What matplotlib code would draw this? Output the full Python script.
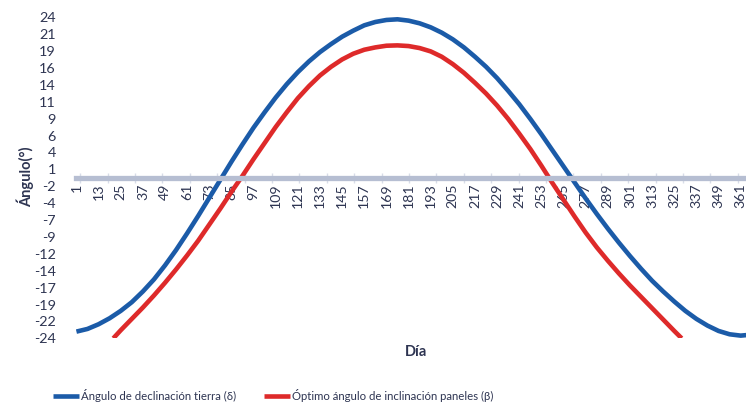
import numpy as np
import matplotlib
matplotlib.use("Agg")
from matplotlib import pyplot as plt

plt.rcParams['font.family'] = ['Lato', 'DejaVu Sans']

# Datos (día del año, ángulo en grados)
dias_decl = [1, 7, 13, 19, 25, 31, 37, 43, 49, 55, 61, 67, 73, 79, 85, 91, 97,
             103, 109, 115, 121, 127, 133, 139, 145, 151, 157, 163, 169, 175,
             181, 187, 193, 199, 205, 211, 217, 223, 229, 235, 241, 247, 253,
             259, 265, 271, 277, 283, 289, 295, 301, 307, 313, 319, 325, 331,
             337, 343, 349, 355, 361, 365]
declinacion = [-23.0, -22.6, -21.9, -21.0, -19.9, -18.6, -17.0, -15.2, -13.1,
               -10.8, -8.3, -5.7, -3.0, -0.3, 2.4, 5.0, 7.5, 9.8, 12.0, 14.0,
               15.8, 17.4, 18.8, 20.0, 21.1, 22.0, 22.8, 23.3, 23.6, 23.7,
               23.5, 23.1, 22.5, 21.7, 20.7, 19.5, 18.1, 16.6, 14.9, 13.0,
               11.0, 8.8, 6.5, 4.1, 1.7, -0.7, -3.1, -5.4, -7.6, -9.7, -11.7,
               -13.6, -15.4, -17.0, -18.5, -19.9, -21.1, -22.1, -22.9, -23.4,
               -23.6, -23.5]

dias_incl = [21, 25, 31, 37, 43, 49, 55, 61, 67, 73, 79, 85, 91, 97, 103, 109,
             115, 121, 127, 133, 139, 145, 151, 157, 163, 169, 175, 181, 187,
             193, 199, 205, 211, 217, 223, 229, 235, 241, 247, 253, 259, 265,
             271, 277, 283, 289, 295, 301, 307, 313, 319, 325, 329]
inclinacion = [-24.0, -22.8, -21.1, -19.4, -17.6, -15.7, -13.7, -11.6, -9.4,
               -7.0, -4.6, -2.1, 0.3, 2.8, 5.2, 7.6, 9.8, 11.9, 13.7, 15.3,
               16.6, 17.7, 18.55, 19.15, 19.5, 19.75, 19.8, 19.7, 19.4, 18.9,
               18.1, 17.0, 15.7, 14.2, 12.6, 10.8, 8.8, 6.6, 4.3, 1.8, -0.8,
               -3.3, -5.8, -8.2, -10.4, -12.4, -14.3, -16.1, -17.8, -19.5,
               -21.2, -22.9, -24.0]

ytick_labels = ['24', '21', '19', '16', '14', '11', '9', '6', '4', '1', '-2',
                '-4', '-7', '-9', '-12', '-14', '-17', '-19', '-22', '-24']
xtick_days = [1, 13, 25, 37, 49, 61, 73, 85, 97, 109, 121, 133, 145, 157, 169,
              181, 193, 205, 217, 229, 241, 253, 265, 277, 289, 301, 313, 325,
              337, 349, 361]

AZUL = '#1B5BA8'
ROJO = '#DE2A2A'
TEXTO = '#2E3552'
EJE = '#B6BED2'

W, H = 746, 408
fig = plt.figure(figsize=(W / 100, H / 100), dpi=100)
x0, x1 = 75.5, 749.0
ytop, ybot = 17.3, 338.3
ax = fig.add_axes([x0 / W, 1 - ybot / H, (x1 - x0) / W, (ybot - ytop) / H])

ax.plot(dias_decl, declinacion, color=AZUL, lw=3.3, solid_capstyle='butt',
        solid_joinstyle='round',
        label='Ángulo de declinación tierra (δ)')
ax.plot(dias_incl, inclinacion, color=ROJO, lw=3.3, solid_capstyle='butt',
        solid_joinstyle='round',
        label='Óptimo ángulo de inclinación paneles (β)')

ax.set_xlim(0.5, 365.5)
ax.set_ylim(-24, 24)

for s in ['top', 'right', 'left']:
    ax.spines[s].set_visible(False)
ax.spines['bottom'].set_position(('data', 0))
ax.spines['bottom'].set_color(EJE)
ax.spines['bottom'].set_linewidth(3.8)

ax.set_yticks(np.linspace(24, -24, len(ytick_labels)))
ax.set_yticklabels(ytick_labels)
ax.tick_params(axis='y', length=0, pad=14, labelsize=10.4, labelcolor=TEXTO)

ax.set_xticks(xtick_days)
ax.set_xticklabels([str(d) for d in xtick_days], rotation=90)
ax.tick_params(axis='x', which='major', length=0, pad=4, labelsize=10.2,
               labelcolor=TEXTO)
ax.set_xticks(np.arange(3.0, 366, 14.85), minor=True)
ax.tick_params(axis='x', which='minor', length=7, width=1.0,
               direction='inout', color='#D8DDE8')
ax.set_zorder(1)

fig.text(25 / W, 1 - 177 / H, 'Ángulo(°)', rotation=90, ha='center',
         va='center', fontsize=10.5, fontweight='bold', color=TEXTO)
fig.text(416 / W, 1 - 352 / H, 'Día', ha='center', va='center',
         fontsize=10.5, fontweight='bold', color=TEXTO)

fig.legend(loc='center left', bbox_to_anchor=(43 / W, 1 - 395 / H), ncol=2,
           frameon=False, fontsize=8.2, handlelength=2.3, handletextpad=0.15,
           columnspacing=2.4, labelcolor=TEXTO)

fig.savefig('out.png', dpi=100)
